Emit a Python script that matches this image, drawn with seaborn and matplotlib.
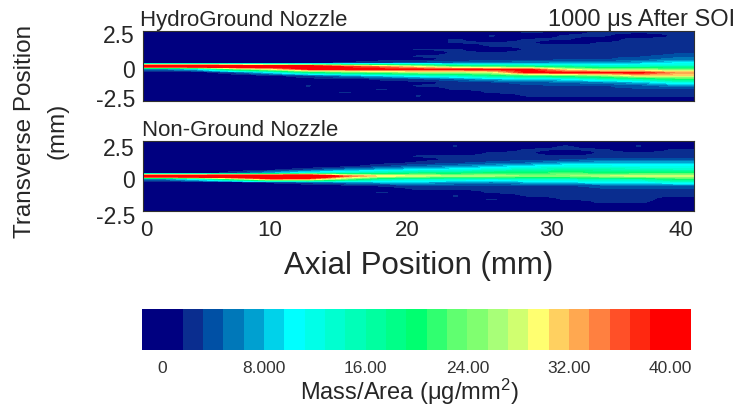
import numpy as np
import pandas as pd
import matplotlib
matplotlib.use("Agg")
import matplotlib.pyplot as plt
from matplotlib.colors import ListedColormap, BoundaryNorm
import seaborn as sns

# columns run along the axis (mm), rows go from +2.5 mm down to -2.5 mm
# the core of the jet saturates the colour scale, so a few values sit above 40
hydro_ground = [
    [0, 0, 0, 0, 0, 0, 0, 0, 0, 0, 2, 1, 2, 2, 2],
    [0, 0, 0, 0, 0, 0, 0, 0, 0, 2, 0, 2, 2, 0, 2],
    [0, 0, 0, 0, 0, 0, 0, 0, 2, 0, 2, 2, 0, 3, 2],
    [0, 0, 0, 0, 0, 0, 0, 0, 2, 2, 2, 0, 2, 2, 2],
    [0, 0, 0, 0, 0, 0, 0, 0, 0, 2, 2, 3, 2, 2, 2],
    [0, 0, 0, 0, 0, 0, 0, 2, 2, 0, 2, 2, 2, 2, 2],
    [0, 0, 0, 0, 0, 0, 0, 0, 2, 2, 2, 2, 2, 2, 3],
    [0, 0, 0, 0, 0, 0, 0, 2, 2, 2, 2, 2, 3, 3, 4],
    [0, 0, 0, 0, 0, 0, 1, 1, 2, 2, 3, 3, 3, 4, 6],
    [0, 0, 0, 1, 1, 2, 3, 4, 5, 6, 6, 7, 7, 8, 10],
    [60, 60, 56, 50, 46, 38, 34, 28, 22, 20, 18, 16, 14, 14, 15],
    [6, 10, 24, 30, 40, 40, 40, 40, 40, 40, 40, 30, 26, 26, 24],
    [0, 0, 4, 10, 18, 22, 24, 26, 26, 28, 40, 40, 40, 40, 34],
    [0, 0, 0, 1, 3, 6, 9, 12, 14, 18, 20, 22, 24, 30, 30],
    [0, 0, 0, 0, 1, 1, 2, 3, 5, 8, 9, 10, 14, 16, 20],
    [0, 0, 0, 0, 0, 0, 1, 1, 2, 3, 4, 5, 6, 8, 12],
    [0, 0, 0, 0, 2, 0, 0, 2, 2, 2, 3, 3, 3, 4, 6],
    [0, 0, 0, 0, 0, 0, 2, 0, 2, 2, 2, 2, 3, 3, 3],
    [0, 0, 0, 0, 0, 2, 0, 0, 0, 2, 2, 2, 3, 3, 2],
    [0, 0, 0, 0, 0, 0, 0, 2, 0, 0, 2, 2, 2, 2, 2],
    [0, 0, 0, 0, 0, 0, 0, 0, 0, 0, 0, 0, 0, 0, 0],
]
non_ground = [
    [0, 0, 0, 0, 0, 0, 0, 0, 0, 0, 0, 0, 0, 0, 0],
    [0, 0, 0, 0, 0, 0, 0, 0, 2, 0, 0, 2, 0, 2, 0],
    [0, 0, 0, 0, 0, 0, 0, 0, 0, 0, 2, 2, 2, 0, 2],
    [0, 0, 0, 0, 0, 0, 0, 0, 0, 2, 2, 0, 2, 2, 2],
    [0, 0, 0, 0, 0, 0, 0, 2, 2, 2, 2, 2, 2, 2, 2],
    [0, 0, 0, 0, 0, 0, 0, 1, 2, 2, 3, 3, 4, 4, 4],
    [0, 0, 0, 0, 0, 0, 1, 2, 3, 4, 5, 7, 8, 8, 8],
    [0, 0, 0, 0, 0, 1, 3, 5, 6, 8, 10, 12, 12, 11, 11],
    [0, 0, 0, 1, 3, 6, 8, 10, 11, 13, 15, 16, 16, 15, 14],
    [0, 0, 3, 8, 12, 14, 16, 18, 18, 20, 20, 22, 20, 20, 20],
    [60, 60, 60, 56, 56, 38, 32, 30, 28, 28, 26, 26, 28, 30, 30],
    [6, 12, 24, 36, 34, 24, 16, 14, 14, 13, 14, 14, 16, 16, 20],
    [0, 0, 0, 2, 4, 6, 8, 8, 7, 6, 8, 9, 10, 10, 12],
    [0, 0, 0, 0, 0, 1, 2, 3, 3, 3, 3, 3, 4, 4, 5],
    [0, 0, 0, 0, 0, 0, 0, 2, 2, 2, 3, 2, 3, 3, 3],
    [0, 0, 0, 0, 0, 0, 2, 0, 0, 2, 2, 3, 2, 2, 2],
    [0, 0, 0, 0, 0, 0, 0, 0, 2, 0, 2, 2, 2, 2, 2],
    [0, 0, 0, 0, 0, 0, 0, 0, 0, 2, 0, 2, 2, 3, 0],
    [0, 0, 0, 0, 0, 0, 0, 0, 0, 0, 0, 0, 2, 2, 0],
    [0, 0, 0, 0, 0, 0, 0, 0, 0, 0, 0, 0, 0, 0, 0],
    [0, 0, 0, 0, 0, 0, 0, 0, 0, 0, 0, 0, 0, 0, 0],
]

level_colors = [
    "#000080", "#0a2d8f", "#0050a5", "#0078b9", "#00a0d0",
    "#00d2ea", "#00ffff", "#00ffe8", "#00ffd0", "#00ffb8",
    "#00ffa0", "#00ff88", "#00ff70", "#30ff70", "#60ff70",
    "#80ff70", "#a8ff78", "#d0ff70", "#ffff70", "#ffd060",
    "#ffa850", "#ff8040", "#ff5028", "#ff2810", "#ff0000",
]
level_edges = [-1.6, 1.6, 3.2, 4.8, 6.4, 8.0, 9.6, 11.2, 12.8, 14.4, 16.0, 17.6, 19.2,
               20.8, 22.4, 24.0, 25.6, 27.2, 28.8, 30.4, 32.0, 33.6, 35.2, 36.8, 38.4, 41.6]
# end levels are twice as wide on the bar
bar_levels = [0, 0, 2.4, 4, 5.6, 7.2, 8.8, 10.4, 12, 13.6, 15.2, 16.8, 18.4, 20, 21.6,
              23.2, 24.8, 26.4, 28, 29.6, 31.2, 32.8, 34.4, 36, 37.6, 40, 40]
bar_ticks = ["0", "8.000", "16.00", "24.00", "32.00", "40.00"]

# labels sit where the original put them by hand, not on a regular spacing
x_tick_pos = [0.25, 9.4, 19.7, 30.4, 40.0]
x_tick_labels = ["0", "10", "20", "30", "40"]
y_labels = ["2.5", "0", "-2.5"]
y_pos_top = [2.15, -0.35, -2.42]
y_pos_low = [2.0, -0.35, -2.92]

sns.set_theme(style="white")
plt.rcParams["font.family"] = ["Liberation Sans", "DejaVu Sans"]
plt.rcParams["mathtext.default"] = "regular"

W, H = 739, 406
fig = plt.figure(figsize=(W / 100, H / 100), dpi=100)


def px_axes(left, top, right, bottom):
    return fig.add_axes([left / W, 1 - bottom / H, (right - left) / W, (bottom - top) / H])


cmap = ListedColormap(level_colors)
norm = BoundaryNorm(level_edges, cmap.N, clip=True)


def draw_panel(ax, values, title, y_pos, title_x):
    ax.imshow(np.array(values), extent=[0, 41, -2.5, 2.5], aspect="auto", cmap=cmap,
              norm=norm, interpolation="bilinear")
    ax.set_yticks([])
    ax.set_xlim(0, 41)
    ax.set_ylim(-2.5, 2.5)
    for pos, lab in zip(y_pos, y_labels):
        ax.text(-0.6, pos, lab, fontsize=16.5, color="#262626", ha="right", va="center")
    for s in ax.spines.values():
        s.set_visible(True)
        s.set_color("#303030")
        s.set_linewidth(0.8)
    ax.text(title_x, 1.02, title, transform=ax.transAxes, fontsize=16, color="#262626",
            va="bottom", ha="left")


ax_top = px_axes(143, 32, 694, 102)
draw_panel(ax_top, hydro_ground, "HydroGround Nozzle", y_pos_top, -0.005)
ax_top.set_xticks([])
ax_top.text(1.075, 1.02, "1000 μs After SOI", transform=ax_top.transAxes, fontsize=17,
            color="#262626", va="bottom", ha="right")

ax_low = px_axes(143, 142, 694, 212)
draw_panel(ax_low, non_ground, "Non-Ground Nozzle", y_pos_low, -0.002)
ax_low.set_xticks(x_tick_pos, x_tick_labels, fontsize=16, color="#262626")
ax_low.tick_params(axis="x", length=0, pad=6)
ax_low.set_xlabel("Axial Position (mm)", fontsize=22.5, color="#262626", labelpad=7)

fig.text(25 / W, 1 - 131 / H, "Transverse Position", rotation=90, fontsize=17.5, color="#262626",
         ha="center", va="center")
fig.text(58 / W, 1 - 131 / H, "(mm)", rotation=90, fontsize=17.5, color="#262626",
         ha="center", va="center")

ax_bar = px_axes(142, 310, 691, 351)
bar_df = pd.DataFrame([bar_levels])
sns.heatmap(bar_df, ax=ax_bar, cmap=cmap, norm=norm, cbar=False, xticklabels=False, yticklabels=False)
ax_bar.set_xticks([1, 6, 11, 16, 21, 26], bar_ticks, fontsize=12.5, color="#333333", rotation=0)
ax_bar.tick_params(axis="x", length=0, pad=7)
ax_bar.set_xlabel("Mass/Area ($\\mu$g/mm$^2$)", fontsize=17, color="#262626", labelpad=1, x=0.487)

fig.savefig("out.png", dpi=100)
